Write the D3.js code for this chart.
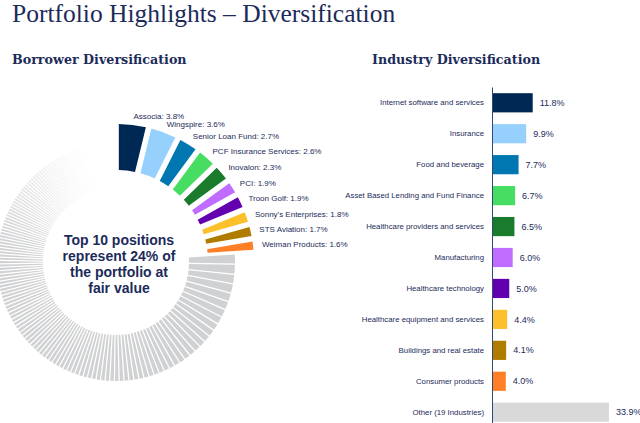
<!DOCTYPE html>
<html>
<head>
<meta charset="utf-8">
<script src="https://cdn.jsdelivr.net/npm/d3@7"></script>
<style>
  html, body { margin: 0; padding: 0; background: #ffffff; }
  svg { display: block; }
</style>
</head>
<body>
<svg id="chart" width="640" height="423"></svg>
<script>
// ---------------- DATA ----------------
const top10Names = ["Associa", "Wingspire", "Senior Loan Fund", "PCF Insurance Services", "Inovalon",
  "PCI", "Troon Golf", "Sonny's Enterprises", "STS Aviation", "Weiman Products"];
const top10Values = [3.8, 3.6, 2.7, 2.6, 2.3, 1.9, 1.9, 1.8, 1.7, 1.6];

// remaining (unlabelled) positions, read off the grey ring (estimates, % of fair value)
const otherPositions = [
  1.4, 1.35, 1.3, 1.25, 1.2, 1.15, 1.1, 1.05, 1.0, 0.98, 0.95, 0.92, 0.9, 0.88, 0.85, 0.83, 0.8, 0.78,
  0.76, 0.74, 0.72, 0.71, 0.7, 0.69, 0.68, 0.67, 0.66, 0.65, 0.64,
  0.63, 0.62, 0.62, 0.61, 0.6, 0.6, 0.59, 0.59, 0.58, 0.58, 0.57, 0.57, 0.56, 0.56, 0.56, 0.55, 0.55,
  0.55, 0.54, 0.54, 0.54, 0.53, 0.53, 0.53, 0.52, 0.52, 0.52, 0.51, 0.51, 0.51, 0.5, 0.5, 0.5, 0.5,
  0.49, 0.49, 0.49, 0.49, 0.48, 0.48, 0.48, 0.48, 0.47, 0.47, 0.47,
  0.46, 0.46, 0.45, 0.45, 0.45, 0.44, 0.44, 0.44, 0.43, 0.43, 0.43, 0.42, 0.42, 0.42, 0.42, 0.41,
  0.41, 0.41, 0.41, 0.4, 0.4, 0.4, 0.4, 0.4, 0.39, 0.39, 0.39, 0.39, 0.38, 0.38, 0.38, 0.38, 0.37,
  0.37, 0.37, 0.37, 0.36, 0.36, 0.36, 0.36, 0.35, 0.35, 0.35, 0.35, 0.34, 0.34, 0.34, 0.34, 0.33,
  0.33, 0.33, 0.33, 0.32, 0.32, 0.32, 0.32, 0.31, 0.31, 0.31, 0.31, 0.3, 0.3, 0.3, 0.3, 0.29, 0.29,
  0.29, 0.28, 0.28, 0.28
];

const industries = ["Internet software and services", "Insurance", "Food and beverage",
  "Asset Based Lending and Fund Finance", "Healthcare providers and services", "Manufacturing",
  "Healthcare technology", "Healthcare equipment and services", "Buildings and real estate",
  "Consumer products", "Other (19 Industries)"];
const industryValues = [11.8, 9.9, 7.7, 6.7, 6.5, 6.0, 5.0, 4.4, 4.1, 4.0, 33.9];

const centerLines = ["Top 10 positions", "represent 24% of", "the portfolio at", "fair value"];

// ---------------- STYLE ----------------
const palette = ["#002855", "#96d1fd", "#0077b1", "#47dd63", "#197b2b",
  "#c06cff", "#6200b0", "#fcc02c", "#b07c00", "#ff7f27"];
const greyColor = "#d0d1d3";
const otherBarColor = "#d9d9d9";
const navy = "#1c2b5a";

const svg = d3.select("#chart");

// Titles
svg.append("text")
  .attr("x", 12).attr("y", 22)
  .attr("font-family", "Liberation Serif, serif")
  .attr("font-size", 25.5)
  .attr("fill", navy)
  .text("Portfolio Highlights \u2013 Diversification");

svg.append("text")
  .attr("x", 12).attr("y", 64)
  .attr("font-family", "DejaVu Serif, serif")
  .attr("font-weight", "bold")
  .attr("font-size", 12.7)
  .attr("fill", navy)
  .text("Borrower Diversification");

svg.append("text")
  .attr("x", 372).attr("y", 64)
  .attr("font-family", "DejaVu Serif, serif")
  .attr("font-weight", "bold")
  .attr("font-size", 12.7)
  .attr("fill", navy)
  .text("Industry Diversification");

// ---------------- DONUT ----------------
const cx = 116, cy = 262;
const ringData = top10Values.map((v, i) => ({ name: top10Names[i], value: v, top: true, i }))
  .concat(otherPositions.map((v, i) => ({ name: "other" + i, value: v, top: false, i })));

const pie = d3.pie().sort(null).value(d => d.value).startAngle(0).endAngle(2 * Math.PI);
const arcsData = pie(ringData);

const arcTop = d3.arc().innerRadius(92).outerRadius(138).padAngle(0.034);
const arcGrey = d3.arc().innerRadius(73).outerRadius(119).padAngle(0.009);

const gDonut = svg.append("g").attr("transform", `translate(${cx},${cy})`);

const fadeStart = 280, fadeEnd = 345;
gDonut.selectAll("path.grey")
  .data(arcsData.filter(d => !d.data.top))
  .join("path")
  .attr("class", "grey")
  .attr("d", arcGrey)
  .attr("fill", greyColor)
  .attr("fill-opacity", d => {
    const mid = (d.startAngle + d.endAngle) / 2 * 180 / Math.PI;
    return Math.max(0, Math.min(1, (fadeEnd - mid) / (fadeEnd - fadeStart)));
  });

gDonut.selectAll("path.top")
  .data(arcsData.filter(d => d.data.top))
  .join("path")
  .attr("class", "top")
  .attr("d", arcTop)
  .attr("fill", d => palette[d.data.i]);

const labelR = 147;
gDonut.selectAll("text.lbl")
  .data(arcsData.filter(d => d.data.top))
  .join("text")
  .attr("class", "lbl")
  .attr("x", d => labelR * Math.sin((d.startAngle + d.endAngle) / 2))
  .attr("y", d => -labelR * Math.cos((d.startAngle + d.endAngle) / 2))
  .attr("dy", "0.35em")
  .attr("font-family", "Liberation Sans, Arial, sans-serif")
  .attr("font-size", 8)
  .attr("fill", navy)
  .text(d => `${d.data.name}: ${d3.format(".1f")(d.data.value)}%`);

const center = svg.append("g").attr("transform", `translate(119,0)`);
center.selectAll("text")
  .data(centerLines)
  .join("text")
  .attr("x", 0)
  .attr("y", (d, i) => 245 + i * 16)
  .attr("text-anchor", "middle")
  .attr("font-family", "Liberation Sans, Arial, sans-serif")
  .attr("font-weight", "bold")
  .attr("font-size", 14)
  .attr("fill", navy)
  .text(d => d);

// ---------------- BAR CHART ----------------
const x = d3.scaleLinear().domain([0, 40]).range([492, 630]);
const y = d3.scaleBand().domain(industries).range([87, 428]).paddingInner(0.38).paddingOuter(0.2);
const barColors = palette.concat([otherBarColor]);

const gBars = svg.append("g");
gBars.selectAll("rect")
  .data(industries)
  .join("rect")
  .attr("x", x(0))
  .attr("y", d => y(d))
  .attr("width", (d, i) => x(industryValues[i]) - x(0))
  .attr("height", y.bandwidth())
  .attr("fill", (d, i) => barColors[i]);

gBars.selectAll("text.val")
  .data(industries)
  .join("text")
  .attr("class", "val")
  .attr("x", (d, i) => x(industryValues[i]) + 7)
  .attr("y", d => y(d) + y.bandwidth() / 2)
  .attr("dy", "0.35em")
  .attr("font-family", "Liberation Sans, Arial, sans-serif")
  .attr("font-size", 9)
  .attr("fill", navy)
  .text((d, i) => d3.format(".1f")(industryValues[i]) + "%");

const yAxis = svg.append("g")
  .attr("transform", `translate(${x(0)},0)`)
  .call(d3.axisLeft(y).tickSize(0).tickSizeOuter(0).tickPadding(8));
yAxis.select(".domain").attr("stroke", "#2f4a7a").attr("stroke-width", 1);
yAxis.selectAll(".tick text")
  .attr("font-family", "Liberation Sans, Arial, sans-serif")
  .attr("font-size", 7.8)
  .attr("fill", navy);
</script>
</body>
</html>
